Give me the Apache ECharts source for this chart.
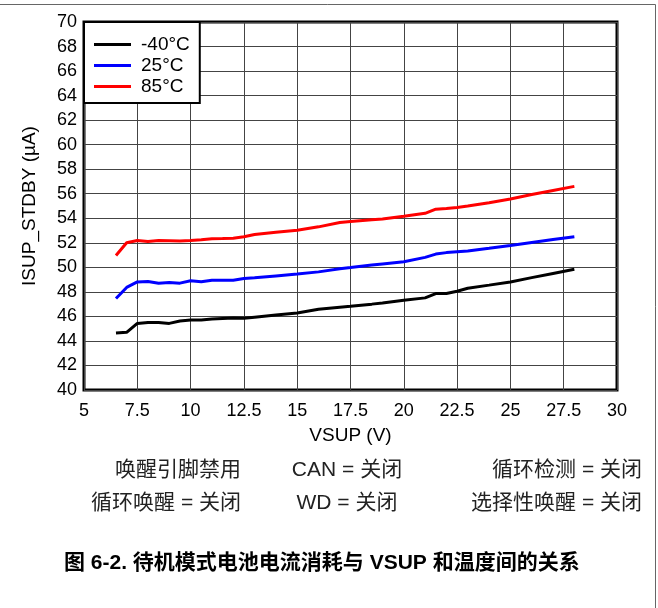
<!DOCTYPE html>
<html>
<head>
<meta charset="utf-8">
<script src="https://cdn.jsdelivr.net/npm/echarts@6/dist/echarts.min.js"></script>
<style>html,body{margin:0;padding:0;background:#fff}#c{width:658px;height:608px}</style>
</head>
<body>
<div id="c"></div>
<script>
const xValues = [6.5,7,7.5,8,8.5,9,9.5,10,10.5,11,11.5,12,12.5,13,14,15,16,17,17.5,18.5,19,20,21,21.5,22,22.5,23,24,25,26,27,28];
const tempM40 = [44.64,44.7,45.43,45.51,45.51,45.43,45.62,45.7,45.7,45.78,45.83,45.86,45.85,45.94,46.12,46.27,46.58,46.75,46.82,47.0,47.1,47.32,47.51,47.86,47.86,48.05,48.3,48.55,48.81,49.16,49.5,49.84];
const temp25 = [47.46,48.36,48.81,48.85,48.71,48.76,48.71,48.9,48.83,48.95,48.95,48.95,49.09,49.15,49.3,49.45,49.63,49.88,49.98,50.19,50.28,50.46,50.81,51.08,51.2,51.27,51.33,51.55,51.78,52.02,52.26,52.5];
const temp85 = [50.96,52.0,52.19,52.1,52.19,52.17,52.14,52.19,52.25,52.33,52.35,52.38,52.49,52.68,52.86,53.03,53.3,53.65,53.74,53.88,53.94,54.16,54.4,54.74,54.8,54.88,55.0,55.27,55.57,55.93,56.27,56.6];
const seriesNames = ['-40°C','25°C','85°C'];
const xTicks = [5,7.5,10,12.5,15,17.5,20,22.5,25,27.5,30];
const yTicks = [40,42,44,46,48,50,52,54,56,58,60,62,64,66,68,70];
const xAxisTitle = 'VSUP (V)';
const yAxisTitle = 'ISUP_STDBY (µA)';
const notesRow1 = ['唤醒引脚禁用','CAN = 关闭','循环检测 = 关闭'];
const notesRow2 = ['循环唤醒 = 关闭','WD = 关闭','选择性唤醒 = 关闭'];
const caption = '图 6-2. 待机模式电池电流消耗与 VSUP 和温度间的关系';

const FONT = '"Liberation Sans", Arial, "Noto Sans CJK SC", sans-serif';
const colors = ['#000000','#0000ff','#ff0000'];
const pairs = a => xValues.map((x,i)=>[x,a[i]]);
const data = [tempM40,temp25,temp85];

const chart = echarts.init(document.getElementById('c'), null, {renderer:'canvas'});
const noteStyle = {fontFamily: FONT, fontSize: 21, fill: '#222'};
chart.setOption({
  animation: false,
  backgroundColor: '#fff',
  grid: {left: 84, right: 41, top: 22, bottom: 218, show: true, borderColor: '#000', borderWidth: 3, backgroundColor: 'transparent'},
  legend: {
    left: 84, top: 22, orient: 'vertical',
    data: seriesNames,
    backgroundColor: '#fff', borderColor: '#000', borderWidth: 2, borderRadius: 0,
    padding: [13, 10, 7, 10], itemGap: 2, itemWidth: 37, itemHeight: 3, icon: 'rect',
    textStyle: {fontFamily: FONT, fontSize: 19, color: '#000', padding: [0, 0, 0, 5]},
    z: 10
  },
  xAxis: {
    type: 'value', min: 5, max: 30, interval: 2.5,
    name: xAxisTitle, nameLocation: 'middle', nameGap: 36,
    nameTextStyle: {fontFamily: FONT, fontSize: 19, color: '#000'},
    axisLine: {show: false}, axisTick: {show: false},
    axisLabel: {fontFamily: FONT, fontSize: 18, color: '#000', margin: 12,
      formatter: v => xTicks.includes(v) ? String(v) : ''},
    splitLine: {show: true, lineStyle: {color: '#444', width: 1}}
  },
  yAxis: {
    type: 'value', min: 40, max: 70, interval: 2,
    name: yAxisTitle, nameLocation: 'middle', nameGap: 45,
    nameTextStyle: {fontFamily: FONT, fontSize: 19, color: '#000'},
    axisLine: {show: false}, axisTick: {show: false},
    axisLabel: {fontFamily: FONT, fontSize: 18, color: '#000', margin: 7,
      formatter: v => yTicks.includes(v) ? String(v) : ''},
    splitLine: {show: true, lineStyle: {color: '#444', width: 1}}
  },
  series: data.map((d,i)=>({
    name: seriesNames[i], type: 'line', data: pairs(d),
    showSymbol: false, symbol: 'none',
    lineStyle: {color: colors[i], width: 3},
    itemStyle: {color: colors[i]},
    z: 5
  })),
  graphic: [
    {type: 'line', shape: {x1: 0, y1: 4.5, x2: 655.5, y2: 4.5}, style: {stroke: '#666', lineWidth: 1}, silent: true},
    {type: 'line', shape: {x1: 655.5, y1: 4.5, x2: 655.5, y2: 608}, style: {stroke: '#666', lineWidth: 1}, silent: true},
    {type: 'text', x: 241, y: 470, style: Object.assign({text: notesRow1[0], align: 'right', verticalAlign: 'middle'}, noteStyle)},
    {type: 'text', x: 347, y: 470, style: Object.assign({text: notesRow1[1], align: 'center', verticalAlign: 'middle'}, noteStyle)},
    {type: 'text', x: 642, y: 470, style: Object.assign({text: notesRow1[2], align: 'right', verticalAlign: 'middle'}, noteStyle)},
    {type: 'text', x: 241, y: 503, style: Object.assign({text: notesRow2[0], align: 'right', verticalAlign: 'middle'}, noteStyle)},
    {type: 'text', x: 347, y: 503, style: Object.assign({text: notesRow2[1], align: 'center', verticalAlign: 'middle'}, noteStyle)},
    {type: 'text', x: 642, y: 503, style: Object.assign({text: notesRow2[2], align: 'right', verticalAlign: 'middle'}, noteStyle)},
    {type: 'text', x: 64, y: 563, style: {text: caption, align: 'left', verticalAlign: 'middle', fontFamily: FONT, fontSize: 21, fontWeight: 'bold', fill: '#000'}}
  ]
});
</script>
</body>
</html>
